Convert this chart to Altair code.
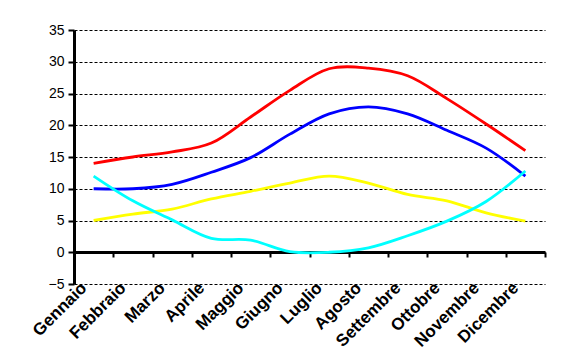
import altair as alt
import pandas as pd

months = ["Gennaio", "Febbraio", "Marzo", "Aprile", "Maggio", "Giugno",
          "Luglio", "Agosto", "Settembre", "Ottobre", "Novembre", "Dicembre"]
red = [14, 15, 15.8, 17.2, 21.3, 25.5, 28.9, 29.0, 27.8, 24.2, 20.2, 16]
blue = [10, 10, 10.7, 12.6, 14.9, 18.6, 21.8, 22.9, 21.8, 19.2, 16.4, 12]
yellow = [5, 6, 6.8, 8.4, 9.6, 10.9, 12, 10.9, 9.1, 8.1, 6.2, 4.9]
cyan = [12, 8.1, 5.1, 2.2, 1.9, 0.1, 0, 0.7, 2.6, 4.9, 8, 12.8]

series_names = ["s1", "s2", "s3", "s4"]
series_colors = ["#FF0000", "#0000FF", "#FFFF00", "#00FFFF"]
y_ticks = [-5, 0, 5, 10, 15, 20, 25, 30, 35]

rows = []
for name, vals in zip(series_names, [red, blue, yellow, cyan]):
    for m, v in zip(months, vals):
        rows.append({"month": m, "value": v, "series": name})
df = pd.DataFrame(rows)

FONT = "Liberation Sans"

lines = alt.Chart(df).mark_line(interpolate="catmull-rom", strokeWidth=2.8).encode(
    x=alt.X("month:N", sort=months,
            scale=alt.Scale(type="band", paddingInner=0, paddingOuter=0),
            axis=alt.Axis(title=None, labelAngle=-45, labelAlign="right",
                          labelBaseline="middle",
                          labelFont=FONT, labelFontSize=17, labelFontWeight="bold",
                          labelColor="black", labelPadding=28, labelOffset=-10,
                          labelOverlap=False, labelBound=False,
                          offset=-32, domain=True, domainColor="black",
                          domainWidth=3, ticks=True, tickBand="extent",
                          tickColor="black", tickWidth=2, tickSize=5,
                          grid=False)),
    y=alt.Y("value:Q",
            scale=alt.Scale(domain=[-5, 35], nice=False, zero=False),
            axis=alt.Axis(title=None, values=y_ticks, grid=True,
                          gridColor="black", gridDash=[3, 2], gridWidth=1,
                          gridOpacity=1,
                          domain=True, domainColor="black", domainWidth=3,
                          ticks=True, tickColor="black", tickWidth=2, tickSize=6,
                          labelFont=FONT, labelFontSize=14, labelColor="black",
                          labelPadding=4)),
    color=alt.Color("series:N", scale=alt.Scale(domain=series_names, range=series_colors),
                    legend=None),
    order=alt.Order("series:N"),
)

chart = lines.properties(
    width=471, height=254,
    padding={"left": 66, "top": 22, "right": 10, "bottom": 70},
    autosize=alt.AutoSizeParams(type="none"),
).configure_view(stroke=None)

chart.save("out.html", embed_options={"renderer": "svg", "actions": False})
